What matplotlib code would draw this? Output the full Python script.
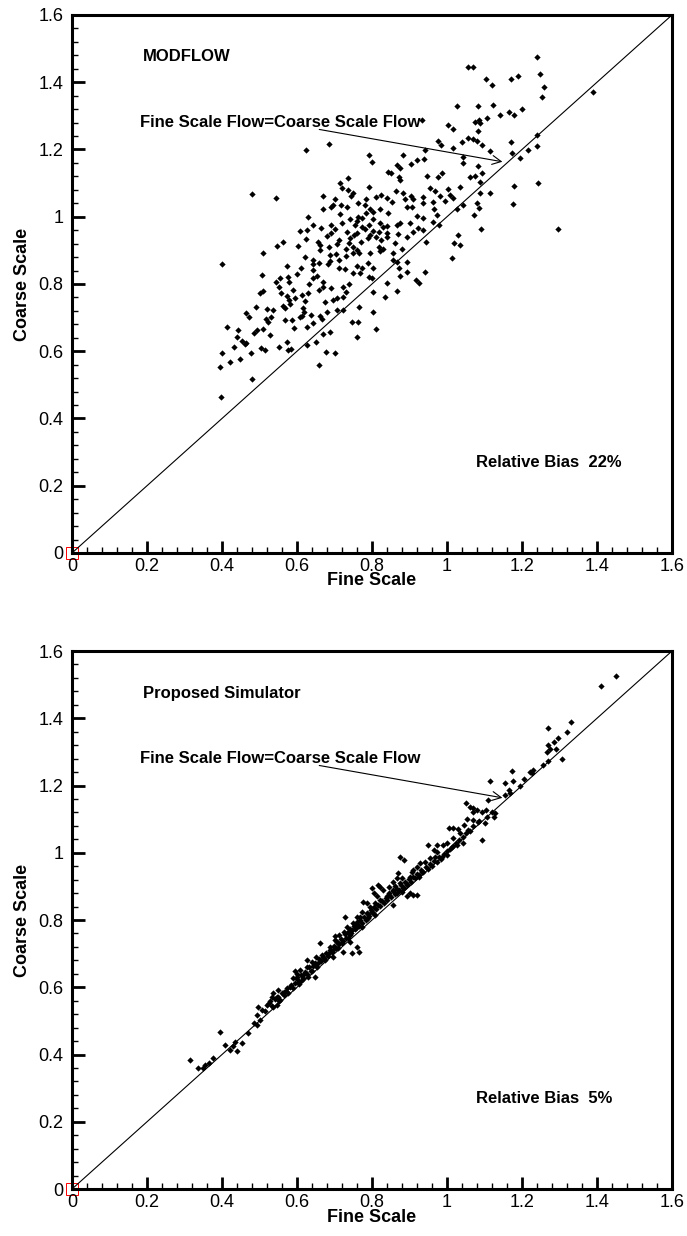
import matplotlib.pyplot as plt
from matplotlib.patches import Rectangle

plt.rcParams['font.family'] = ['Liberation Sans', 'DejaVu Sans']

# tick positions / labels shared by both panels
ticks = [0, 0.2, 0.4, 0.6, 0.8, 1.0, 1.2, 1.4, 1.6]
tick_labels = ['0', '0.2', '0.4', '0.6', '0.8', '1', '1.2', '1.4', '1.6']
minor_ticks = [i * 0.04 for i in range(41)]

# MODFLOW (top panel) - fine scale vs coarse scale
modflow_fine = [
    1.057, 1.068, 1.103, 1.119, 1.170, 1.190, 1.248, 1.259, 1.254, 1.027, 1.082, 1.122,
    1.199, 1.165, 1.178, 1.141, 1.106, 1.086, 1.074, 1.088, 0.932, 1.003, 1.015, 1.082,
    0.977, 0.984, 1.039, 1.057, 1.068, 1.079, 1.092, 1.114, 1.170, 1.172, 1.215, 1.239,
    1.239, 1.194, 1.015, 1.042, 1.043, 1.083, 0.793, 0.801, 0.883, 0.904, 0.919, 0.938,
    0.941, 0.623, 0.686, 0.843, 0.850, 0.866, 0.874, 0.873, 0.874, 0.946, 0.977, 0.986,
    1.061, 1.074, 1.092, 1.088, 1.243, 1.178, 0.714, 0.737, 0.737, 0.748, 0.793, 0.720,
    0.479, 0.543,
    0.668, 0.690, 0.695, 0.668, 0.717, 0.734, 0.714, 0.784, 0.781, 0.794, 0.803, 0.810,
    0.823, 0.839, 0.864, 0.883, 0.888, 0.903, 0.910, 0.906, 0.892, 0.937, 0.954, 0.968,
    0.965, 0.937, 0.994, 1.008, 1.017, 1.034, 1.042, 1.026, 1.088, 1.114, 1.079, 1.086,
    1.072, 1.175, 1.090, 1.295,
    0.630, 0.643, 0.664, 0.690, 0.608, 0.626, 0.690, 0.763, 0.772, 0.754, 0.772, 0.793,
    0.803, 0.821, 0.830, 0.839, 0.843, 0.734, 0.741, 0.759, 0.794, 0.810, 0.819, 0.823,
    0.839, 0.866, 0.874, 0.870, 0.892, 0.910, 0.923, 0.937, 0.935, 0.963, 0.972, 0.979,
    0.547, 0.563, 0.603, 0.623, 0.655, 0.661, 0.686, 0.706, 0.739, 0.750, 0.944, 1.019,
    1.034, 1.030, 0.508, 0.688, 0.688, 0.713, 0.730, 0.750, 0.759, 0.766, 0.794, 0.821,
    0.830, 0.819, 0.857, 0.857, 0.866, 0.892, 1.012,
    0.399, 0.507, 0.508, 0.572, 0.610, 0.643, 0.659, 0.683, 0.713, 0.728, 0.750, 0.759,
    0.768, 0.772, 0.790, 0.793, 0.803, 0.577, 0.579, 0.544, 0.554, 0.643, 0.652, 0.643,
    0.668, 0.668, 0.690, 0.723, 0.739, 0.730, 0.722, 0.873, 0.892, 0.874, 0.941, 0.917,
    0.926, 0.839, 0.866, 0.799, 0.556, 0.572, 0.590, 0.594, 0.612, 0.630, 0.579, 0.695,
    0.674, 0.706, 0.803, 0.834,
    0.465, 0.490, 0.519, 0.535, 0.563, 0.568, 0.617, 0.621, 0.618, 0.517, 0.523, 0.510,
    0.569, 0.587, 0.612, 0.636, 0.661, 0.666, 0.679, 0.706, 0.723, 0.414, 0.443, 0.485,
    0.528, 0.592, 0.626, 0.643, 0.668, 0.688, 0.746, 0.763, 0.766, 0.803, 0.810, 0.759,
    0.439, 0.452, 0.461, 0.432, 0.465, 0.477, 0.505, 0.514, 0.553, 0.572, 0.577, 0.583,
    0.626, 0.650, 0.677, 0.701, 0.399, 0.421, 0.448, 0.394, 0.658, 0.481, 0.397,
    1.240, 1.390,
    0.700, 0.720, 0.742, 0.761, 0.781, 0.802, 0.711, 0.752, 0.771, 0.789, 0.681, 0.662,
    0.703, 0.731, 0.621, 0.642, 0.601, 0.633, 0.659, 0.552, 0.581, 0.609, 0.531, 0.492,
    0.471, 0.502, 0.841, 0.862, 0.881, 0.902, 0.921, 0.962, 0.981, 1.003, 0.822, 0.853,
    0.783, 0.762, 0.743, 0.702,
]
modflow_coarse = [
    1.444, 1.446, 1.409, 1.392, 1.409, 1.418, 1.423, 1.387, 1.357, 1.330, 1.330, 1.332,
    1.319, 1.310, 1.302, 1.302, 1.293, 1.288, 1.281, 1.278, 1.288, 1.273, 1.260, 1.256,
    1.226, 1.213, 1.223, 1.233, 1.230, 1.225, 1.213, 1.196, 1.223, 1.189, 1.198, 1.210,
    1.243, 1.174, 1.203, 1.179, 1.161, 1.151, 1.184, 1.164, 1.184, 1.157, 1.169, 1.172,
    1.198, 1.198, 1.216, 1.134, 1.129, 1.154, 1.144, 1.119, 1.109, 1.121, 1.119, 1.131,
    1.119, 1.121, 1.129, 1.104, 1.099, 1.091, 1.099, 1.114, 1.080, 1.072, 1.089, 1.084,
    1.067, 1.057,
    1.062, 1.030, 1.034, 1.023, 1.035, 1.028, 1.008, 1.052, 1.035, 1.022, 1.015, 1.060,
    1.065, 1.055, 1.075, 1.070, 1.052, 1.062, 1.052, 1.030, 1.030, 1.060, 1.084, 1.075,
    1.022, 1.040, 1.048, 1.065, 1.055, 1.089, 1.035, 1.023, 1.070, 1.072, 1.040, 1.025,
    1.005, 1.038, 0.963, 0.963,
    1.000, 0.975, 0.966, 0.975, 0.959, 0.961, 0.951, 1.000, 0.995, 0.975, 0.970, 0.975,
    0.992, 0.980, 0.970, 0.973, 1.010, 0.956, 0.936, 0.951, 0.946, 0.941, 0.956, 0.931,
    0.951, 0.975, 0.980, 0.949, 0.941, 0.956, 0.966, 0.995, 0.961, 0.985, 1.005, 0.975,
    0.913, 0.926, 0.913, 0.933, 0.926, 0.916, 0.911, 0.919, 0.921, 0.911, 0.926, 0.923,
    0.916, 0.946, 0.893, 0.886, 0.868, 0.871, 0.883, 0.893, 0.901, 0.893, 0.891, 0.899,
    0.903, 0.909, 0.893, 0.871, 0.866, 0.866, 0.876,
    0.859, 0.827, 0.779, 0.852, 0.847, 0.860, 0.863, 0.860, 0.847, 0.844, 0.832, 0.852,
    0.832, 0.847, 0.861, 0.822, 0.847, 0.820, 0.807, 0.807, 0.817, 0.842, 0.824, 0.817,
    0.807, 0.792, 0.787, 0.792, 0.800, 0.777, 0.762, 0.847, 0.837, 0.824, 0.837, 0.812,
    0.804, 0.804, 0.779, 0.817, 0.774, 0.764, 0.782, 0.759, 0.767, 0.772, 0.752, 0.752,
    0.745, 0.759, 0.777, 0.762,
    0.715, 0.731, 0.725, 0.723, 0.735, 0.728, 0.728, 0.748, 0.718, 0.695, 0.688, 0.665,
    0.693, 0.693, 0.705, 0.708, 0.705, 0.695, 0.718, 0.723, 0.723, 0.673, 0.663, 0.655,
    0.648, 0.668, 0.673, 0.683, 0.650, 0.658, 0.688, 0.688, 0.733, 0.716, 0.665, 0.641,
    0.641, 0.629, 0.622, 0.614, 0.624, 0.596, 0.609, 0.604, 0.614, 0.626, 0.604, 0.606,
    0.619, 0.626, 0.599, 0.596, 0.594, 0.569, 0.577, 0.554, 0.559, 0.517, 0.465,
    1.475, 1.370,
    0.962, 0.981, 0.993, 0.986, 0.964, 0.957, 0.931, 0.946, 0.924, 0.936, 0.942, 0.902,
    0.889, 0.903, 0.881, 0.872, 0.829, 0.801, 0.781, 0.792, 0.741, 0.702, 0.703, 0.662,
    0.701, 0.772, 0.941, 0.922, 0.903, 0.982, 1.001, 1.043, 1.062, 1.081, 1.022, 1.043,
    1.012, 1.041, 1.063, 1.052,
]

# proposed simulator (bottom panel)
sim_fine = [
    1.297, 1.284, 1.270, 1.275, 1.291, 1.266, 1.306, 1.270, 1.257, 1.230, 1.220, 1.226,
    1.204, 1.195, 1.173, 1.175, 1.155, 1.164, 1.168, 1.155, 1.115, 1.110, 1.051, 1.060,
    1.069, 1.070, 1.079, 1.093, 1.104, 1.119, 1.124, 1.128, 1.106, 1.101, 1.084, 1.070,
    1.053, 1.044, 1.057, 1.030, 1.017, 1.006, 1.035, 1.017, 1.093, 1.042, 1.026, 1.013,
    0.999, 0.990, 0.973, 0.950, 0.964, 0.974, 0.986, 0.999, 0.968, 0.955, 0.941, 0.928,
    0.919, 0.910, 0.933, 0.926, 0.906, 0.901, 0.875, 0.884, 0.870, 0.866, 0.857, 0.875,
    0.893, 0.884, 0.901, 0.910, 0.921, 0.893, 0.879, 0.866, 0.857, 0.844, 0.846, 0.839,
    0.855, 0.830, 0.821, 0.817, 0.799, 0.804, 0.813, 0.821, 0.808, 0.795, 0.786, 0.777,
    0.799, 0.786, 0.808, 0.790, 0.773, 0.768, 0.759, 0.750, 0.773, 0.757, 0.746, 0.733,
    0.728, 0.724, 0.741, 0.737, 0.713, 0.706, 0.701, 0.719, 0.710, 0.741, 0.759, 0.764,
    0.746, 0.722, 0.697, 0.688, 0.695, 0.684, 0.675, 0.670, 0.660, 0.657, 0.648, 0.639,
    0.626, 0.626, 0.639, 0.648, 0.630, 0.617, 0.608, 0.595, 0.599, 0.612, 0.604, 0.590,
    0.581, 0.572, 0.564, 0.550, 0.537, 0.532, 0.546, 0.555, 0.546, 0.537, 0.524, 0.515,
    0.506, 0.497, 0.492, 0.501, 0.484, 0.492, 0.470, 0.452, 0.435, 0.430, 0.421, 0.439,
    0.408, 0.395, 0.377, 0.364, 0.355, 0.350, 0.337, 0.315,
    1.270, 1.330, 1.410, 1.450, 1.320,
    0.520, 0.528, 0.534, 0.541, 0.548, 0.553, 0.559, 0.566, 0.571, 0.577, 0.583, 0.588,
    0.594, 0.601, 0.606, 0.611, 0.616, 0.622, 0.627, 0.633, 0.637, 0.643, 0.648, 0.652,
    0.658, 0.663, 0.667, 0.672, 0.678, 0.682, 0.687, 0.692, 0.698, 0.703, 0.708, 0.713,
    0.717, 0.722, 0.727, 0.731, 0.736, 0.741, 0.745, 0.751, 0.755, 0.760, 0.765, 0.769,
    0.774, 0.779, 0.783, 0.788, 0.792, 0.797, 0.802, 0.806, 0.811, 0.816, 0.821, 0.826,
    0.831, 0.836, 0.841, 0.846, 0.851, 0.856, 0.861, 0.866, 0.872, 0.877, 0.882, 0.888,
    0.893, 0.898, 0.904, 0.909, 0.914, 0.920, 0.926, 0.931, 0.937, 0.943, 0.948, 0.954,
    0.960, 0.966, 0.972, 0.978, 0.985, 0.992, 1.000, 1.008, 1.016, 1.024, 1.033, 1.042,
    1.050, 1.060, 1.070, 1.082, 0.880, 0.860, 0.760, 0.700, 0.650, 0.600,
]
sim_coarse = [
    1.340, 1.330, 1.320, 1.310, 1.310, 1.301, 1.278, 1.274, 1.261, 1.246, 1.241, 1.236,
    1.218, 1.199, 1.244, 1.214, 1.206, 1.187, 1.177, 1.172, 1.213, 1.157, 1.149, 1.137,
    1.132, 1.122, 1.127, 1.122, 1.127, 1.122, 1.107, 1.117, 1.107, 1.088, 1.093, 1.097,
    1.099, 1.083, 1.068, 1.070, 1.073, 1.073, 1.058, 1.043, 1.038, 1.028, 1.023, 1.016,
    1.028, 1.023, 1.023, 1.023, 1.008, 1.003, 0.988, 0.993, 0.988, 0.983, 0.974, 0.969,
    0.959, 0.949, 0.944, 0.929, 0.944, 0.929, 0.988, 0.979, 0.939, 0.924, 0.914, 0.909,
    0.904, 0.894, 0.879, 0.874, 0.874, 0.870, 0.884, 0.879, 0.889, 0.899, 0.879, 0.870,
    0.845, 0.889, 0.899, 0.904, 0.894, 0.879, 0.870, 0.860, 0.850, 0.840, 0.850, 0.855,
    0.825, 0.820, 0.815, 0.805, 0.825, 0.810, 0.795, 0.790, 0.780, 0.775, 0.770, 0.780,
    0.810, 0.765, 0.756, 0.746, 0.756, 0.736, 0.751, 0.731, 0.716, 0.736, 0.721, 0.706,
    0.703, 0.706, 0.711, 0.721, 0.691, 0.701, 0.681, 0.691, 0.731, 0.671, 0.666, 0.676,
    0.681, 0.661, 0.647, 0.632, 0.632, 0.637, 0.651, 0.647, 0.632, 0.622, 0.617, 0.627,
    0.602, 0.597, 0.587, 0.592, 0.582, 0.572, 0.572, 0.562, 0.547, 0.542, 0.552, 0.528,
    0.533, 0.542, 0.518, 0.503, 0.493, 0.488, 0.463, 0.433, 0.438, 0.424, 0.414, 0.409,
    0.429, 0.468, 0.389, 0.374, 0.369, 0.359, 0.359, 0.384,
    1.370, 1.390, 1.495, 1.525, 1.360,
    0.548, 0.560, 0.545, 0.566, 0.571, 0.559, 0.584, 0.578, 0.590, 0.583, 0.606, 0.598,
    0.612, 0.624, 0.611, 0.637, 0.629, 0.645, 0.638, 0.659, 0.648, 0.664, 0.672, 0.661,
    0.684, 0.677, 0.695, 0.688, 0.703, 0.694, 0.712, 0.706, 0.724, 0.716, 0.733, 0.728,
    0.744, 0.739, 0.758, 0.748, 0.764, 0.772, 0.761, 0.781, 0.773, 0.789, 0.783, 0.799,
    0.792, 0.808, 0.801, 0.818, 0.811, 0.829, 0.821, 0.838, 0.832, 0.846, 0.841, 0.857,
    0.851, 0.866, 0.861, 0.874, 0.869, 0.885, 0.878, 0.893, 0.889, 0.903, 0.896, 0.912,
    0.906, 0.921, 0.914, 0.929, 0.925, 0.938, 0.934, 0.948, 0.944, 0.957, 0.952, 0.966,
    0.961, 0.976, 0.972, 0.986, 0.981, 0.997, 1.004, 1.012, 1.021, 1.030, 1.037, 1.047,
    1.058, 1.066, 1.079, 1.090, 0.925, 0.900, 0.810, 0.740, 0.690, 0.640,
]

panels = [
    ('MODFLOW', modflow_fine, modflow_coarse, 'Relative Bias  22%'),
    ('Proposed Simulator', sim_fine, sim_coarse, 'Relative Bias  5%'),
]

fig = plt.figure(figsize=(6.87, 12.36), dpi=100)
axes = [fig.add_axes([0.1048, 0.5526, 0.8734, 0.4353]),
        fig.add_axes([0.1048, 0.0380, 0.8734, 0.4353])]

for ax, (name, fine, coarse, bias) in zip(axes, panels):
    ax.plot([0, 1.6], [0, 1.6], color='black', lw=0.8)
    ax.plot(fine, coarse, 'D', color='black', ms=3.2, mew=0)

    ax.set_xlim(0, 1.6)
    ax.set_ylim(0, 1.6)
    ax.set_xticks(ticks)
    ax.set_xticklabels(tick_labels)
    ax.set_yticks(ticks)
    ax.set_yticklabels(tick_labels)
    ax.set_xticks(minor_ticks, minor=True)
    ax.set_yticks(minor_ticks, minor=True)
    ax.tick_params(which='both', direction='in', color='black',
                   labelsize=13, top=False, right=False)
    ax.tick_params(which='major', length=9, width=2)
    ax.tick_params(which='minor', length=4.6, width=1)
    ax.tick_params(axis='x', which='major', pad=3.5)
    ax.tick_params(axis='y', which='major', pad=6)
    for s in ax.spines.values():
        s.set_linewidth(2.2)

    ax.set_xlabel('Fine Scale', fontsize=13, fontweight='bold', va='center')
    ax.xaxis.set_label_coords(0.5, -0.052)
    ax.set_ylabel('Coarse Scale', fontsize=13, fontweight='bold', va='center')
    ax.yaxis.set_label_coords(-0.082, 0.5)

    ax.text(0.188, 1.475, name, fontsize=12, fontweight='bold', va='center')
    ax.text(0.18, 1.28, 'Fine Scale Flow=Coarse Scale Flow', fontsize=12,
            fontweight='bold', va='center')
    ax.annotate('', xy=(1.155, 1.162), xytext=(0.652, 1.261),
                arrowprops=dict(arrowstyle='->', color='black', lw=0.8,
                                mutation_scale=16))
    ax.text(1.077, 0.269, bias, fontsize=12, fontweight='bold', va='center')

    # small red box at the origin
    ax.add_patch(Rectangle((-0.017, -0.017), 0.034, 0.034, fill=False,
                           edgecolor='red', lw=0.7, clip_on=False))

fig.savefig('out.png', dpi=100)
